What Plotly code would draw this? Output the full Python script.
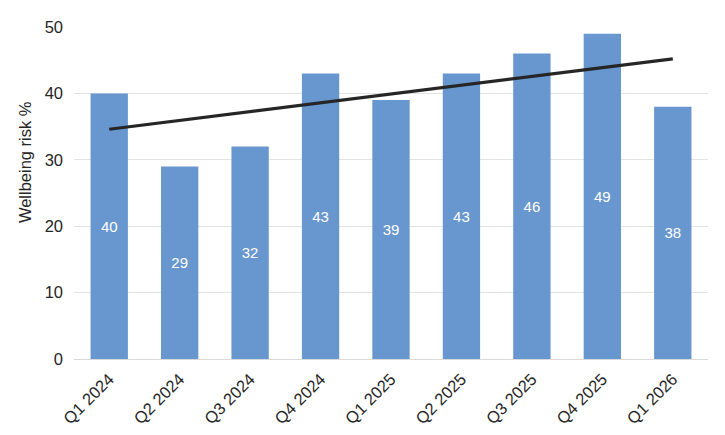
import plotly.graph_objects as go

categories = ["Q1 2024", "Q2 2024", "Q3 2024", "Q4 2024", "Q1 2025",
              "Q2 2025", "Q3 2025", "Q4 2025", "Q1 2026"]
risk_values = [40, 29, 32, 43, 39, 43, 46, 49, 38]
# linear trendline end points
trend_categories = [categories[0], categories[-1]]
trend_values = [34.6, 45.2]
y_ticks = [0, 10, 20, 30, 40, 50]
y_title = "Wellbeing risk %"

fig = go.Figure()
fig.add_trace(go.Bar(
    x=categories, y=risk_values,
    marker=dict(color="#6897CF", line=dict(width=0)),
    text=[str(v) for v in risk_values],
    textposition="inside", insidetextanchor="middle",
    textfont=dict(color="white", size=15, family="Liberation Sans, Arial"),
    hoverinfo="x+y",
))
fig.add_trace(go.Scatter(
    x=trend_categories, y=trend_values, mode="lines",
    line=dict(color="#262626", width=3.2),
    hoverinfo="skip",
))

fig.update_layout(
    width=725, height=435,
    margin=dict(l=74, r=17, t=27, b=76),
    paper_bgcolor="white", plot_bgcolor="white",
    showlegend=False,
    bargap=0.47,
    uniformtext=dict(minsize=15, mode="show"),
    font=dict(family="Liberation Sans, Arial", size=16, color="#262626"),
    xaxis=dict(
        tickangle=-45, showgrid=False, showline=True,
        linecolor="#d9d9d9", linewidth=1, ticks="",
        tickfont=dict(size=16.5, color="#262626"),
        ticklabelstandoff=3, automargin=False,
    ),
    yaxis=dict(
        range=[0, 50], tickvals=y_ticks, showgrid=True,
        gridcolor="#e3e3e3", gridwidth=1, zeroline=False,
        showline=False, ticks="", ticklen=0,
        tickfont=dict(size=16.5, color="#262626"),
        ticklabelstandoff=10, automargin=False,
    ),
    annotations=[dict(
        text=y_title, textangle=-90, showarrow=False,
        xref="paper", yref="paper",
        x=-0.0773, y=0.593, xanchor="center", yanchor="middle",
        font=dict(size=16.5, color="#262626", family="Liberation Sans, Arial"),
    )],
)

fig.write_html("out.html")
